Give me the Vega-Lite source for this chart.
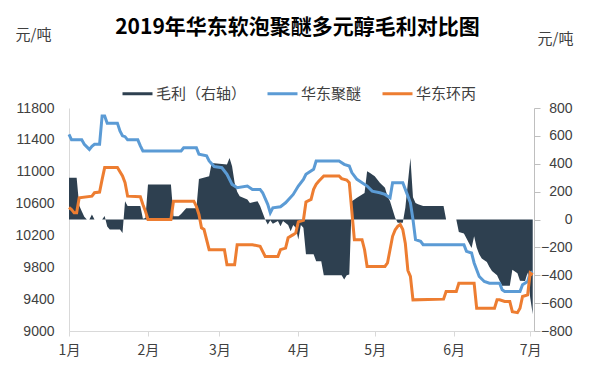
{
  "$schema": "https://vega.github.io/schema/vega-lite/v6.json",
  "width": 465,
  "height": 223,
  "autosize": {"type": "none"},
  "padding": {"left": 69, "top": 108, "right": 61, "bottom": 39},
  "background": "white",
  "title": {
    "text": "2019年华东软泡聚醚多元醇毛利对比图",
    "font": "Noto Sans CJK SC",
    "fontSize": 21,
    "fontWeight": "bold",
    "color": "#000000",
    "anchor": "middle",
    "frame": "group",
    "dx": -4,
    "offset": -11
  },
  "config": {"view": {"stroke": null}},
  "datasets": {
    "profit": [
      {"date": "2019/01/01", "series": "毛利（右轴）", "value": 300},
      {"date": "2019/01/04", "series": "毛利（右轴）", "value": 300},
      {"date": "2019/01/05", "series": "毛利（右轴）", "value": 100},
      {"date": "2019/01/06", "series": "毛利（右轴）", "value": 60},
      {"date": "2019/01/07", "series": "毛利（右轴）", "value": 20},
      {"date": "2019/01/08", "series": "毛利（右轴）", "value": 0},
      {"date": "2019/01/09", "series": "毛利（右轴）", "value": 0},
      {"date": "2019/01/10", "series": "毛利（右轴）", "value": 36},
      {"date": "2019/01/11", "series": "毛利（右轴）", "value": 0},
      {"date": "2019/01/14", "series": "毛利（右轴）", "value": 0},
      {"date": "2019/01/15", "series": "毛利（右轴）", "value": 25},
      {"date": "2019/01/16", "series": "毛利（右轴）", "value": -50},
      {"date": "2019/01/17", "series": "毛利（右轴）", "value": -72},
      {"date": "2019/01/21", "series": "毛利（右轴）", "value": -72},
      {"date": "2019/01/22", "series": "毛利（右轴）", "value": -96},
      {"date": "2019/01/23", "series": "毛利（右轴）", "value": 131},
      {"date": "2019/01/24", "series": "毛利（右轴）", "value": 96},
      {"date": "2019/01/29", "series": "毛利（右轴）", "value": 96},
      {"date": "2019/01/30", "series": "毛利（右轴）", "value": 5},
      {"date": "2019/01/31", "series": "毛利（右轴）", "value": 10},
      {"date": "2019/02/01", "series": "毛利（右轴）", "value": 252},
      {"date": "2019/02/10", "series": "毛利（右轴）", "value": 252},
      {"date": "2019/02/11", "series": "毛利（右轴）", "value": 24},
      {"date": "2019/02/13", "series": "毛利（右轴）", "value": 24},
      {"date": "2019/02/14", "series": "毛利（右轴）", "value": 40},
      {"date": "2019/02/16", "series": "毛利（右轴）", "value": 80},
      {"date": "2019/02/20", "series": "毛利（右轴）", "value": 80},
      {"date": "2019/02/21", "series": "毛利（右轴）", "value": 290},
      {"date": "2019/02/25", "series": "毛利（右轴）", "value": 310},
      {"date": "2019/02/26", "series": "毛利（右轴）", "value": 405},
      {"date": "2019/03/04", "series": "毛利（右轴）", "value": 394},
      {"date": "2019/03/05", "series": "毛利（右轴）", "value": 442},
      {"date": "2019/03/06", "series": "毛利（右轴）", "value": 382},
      {"date": "2019/03/07", "series": "毛利（右轴）", "value": 263},
      {"date": "2019/03/08", "series": "毛利（右轴）", "value": 200},
      {"date": "2019/03/09", "series": "毛利（右轴）", "value": 167},
      {"date": "2019/03/12", "series": "毛利（右轴）", "value": 143},
      {"date": "2019/03/13", "series": "毛利（右轴）", "value": 119},
      {"date": "2019/03/16", "series": "毛利（右轴）", "value": 131},
      {"date": "2019/03/17", "series": "毛利（右轴）", "value": 96},
      {"date": "2019/03/18", "series": "毛利（右轴）", "value": 48},
      {"date": "2019/03/19", "series": "毛利（右轴）", "value": 0},
      {"date": "2019/03/20", "series": "毛利（右轴）", "value": -36},
      {"date": "2019/03/21", "series": "毛利（右轴）", "value": -5},
      {"date": "2019/03/22", "series": "毛利（右轴）", "value": -30},
      {"date": "2019/03/24", "series": "毛利（右轴）", "value": -10},
      {"date": "2019/03/25", "series": "毛利（右轴）", "value": -48},
      {"date": "2019/03/26", "series": "毛利（右轴）", "value": -10},
      {"date": "2019/03/28", "series": "毛利（右轴）", "value": -40},
      {"date": "2019/03/29", "series": "毛利（右轴）", "value": -84},
      {"date": "2019/03/30", "series": "毛利（右轴）", "value": -40},
      {"date": "2019/03/31", "series": "毛利（右轴）", "value": -60},
      {"date": "2019/04/01", "series": "毛利（右轴）", "value": -143},
      {"date": "2019/04/02", "series": "毛利（右轴）", "value": -40},
      {"date": "2019/04/03", "series": "毛利（右轴）", "value": -60},
      {"date": "2019/04/04", "series": "毛利（右轴）", "value": -250},
      {"date": "2019/04/07", "series": "毛利（右轴）", "value": -250},
      {"date": "2019/04/08", "series": "毛利（右轴）", "value": -300},
      {"date": "2019/04/10", "series": "毛利（右轴）", "value": -300},
      {"date": "2019/04/11", "series": "毛利（右轴）", "value": -400},
      {"date": "2019/04/18", "series": "毛利（右轴）", "value": -400},
      {"date": "2019/04/19", "series": "毛利（右轴）", "value": -430},
      {"date": "2019/04/20", "series": "毛利（右轴）", "value": -400},
      {"date": "2019/04/21", "series": "毛利（右轴）", "value": -395},
      {"date": "2019/04/22", "series": "毛利（右轴）", "value": 131},
      {"date": "2019/04/24", "series": "毛利（右轴）", "value": 156},
      {"date": "2019/04/27", "series": "毛利（右轴）", "value": 191},
      {"date": "2019/04/28", "series": "毛利（右轴）", "value": 346},
      {"date": "2019/04/29", "series": "毛利（右轴）", "value": 335},
      {"date": "2019/05/01", "series": "毛利（右轴）", "value": 311},
      {"date": "2019/05/03", "series": "毛利（右轴）", "value": 263},
      {"date": "2019/05/05", "series": "毛利（右轴）", "value": 227},
      {"date": "2019/05/06", "series": "毛利（右轴）", "value": 167},
      {"date": "2019/05/07", "series": "毛利（右轴）", "value": 131},
      {"date": "2019/05/08", "series": "毛利（右轴）", "value": 72},
      {"date": "2019/05/09", "series": "毛利（右轴）", "value": 12},
      {"date": "2019/05/10", "series": "毛利（右轴）", "value": -24},
      {"date": "2019/05/12", "series": "毛利（右轴）", "value": -24},
      {"date": "2019/05/13", "series": "毛利（右轴）", "value": 84},
      {"date": "2019/05/14", "series": "毛利（右轴）", "value": 263},
      {"date": "2019/05/15", "series": "毛利（右轴）", "value": 442},
      {"date": "2019/05/16", "series": "毛利（右轴）", "value": 160},
      {"date": "2019/05/17", "series": "毛利（右轴）", "value": 119},
      {"date": "2019/05/18", "series": "毛利（右轴）", "value": 110},
      {"date": "2019/05/20", "series": "毛利（右轴）", "value": 96},
      {"date": "2019/05/28", "series": "毛利（右轴）", "value": 96},
      {"date": "2019/05/29", "series": "毛利（右轴）", "value": 0},
      {"date": "2019/06/02", "series": "毛利（右轴）", "value": 0},
      {"date": "2019/06/03", "series": "毛利（右轴）", "value": -90},
      {"date": "2019/06/05", "series": "毛利（右轴）", "value": -100},
      {"date": "2019/06/07", "series": "毛利（右轴）", "value": -170},
      {"date": "2019/06/08", "series": "毛利（右轴）", "value": -205},
      {"date": "2019/06/09", "series": "毛利（右轴）", "value": -120},
      {"date": "2019/06/10", "series": "毛利（右轴）", "value": -200},
      {"date": "2019/06/11", "series": "毛利（右轴）", "value": -250},
      {"date": "2019/06/12", "series": "毛利（右轴）", "value": -280},
      {"date": "2019/06/14", "series": "毛利（右轴）", "value": -305},
      {"date": "2019/06/15", "series": "毛利（右轴）", "value": -340},
      {"date": "2019/06/16", "series": "毛利（右轴）", "value": -370},
      {"date": "2019/06/18", "series": "毛利（右轴）", "value": -400},
      {"date": "2019/06/19", "series": "毛利（右轴）", "value": -440},
      {"date": "2019/06/20", "series": "毛利（右轴）", "value": -475},
      {"date": "2019/06/23", "series": "毛利（右轴）", "value": -475},
      {"date": "2019/06/24", "series": "毛利（右轴）", "value": -360},
      {"date": "2019/06/26", "series": "毛利（右轴）", "value": -385},
      {"date": "2019/06/27", "series": "毛利（右轴）", "value": -440},
      {"date": "2019/06/29", "series": "毛利（右轴）", "value": -442},
      {"date": "2019/06/30", "series": "毛利（右轴）", "value": -380},
      {"date": "2019/07/01", "series": "毛利（右轴）", "value": -560},
      {"date": "2019/07/02", "series": "毛利（右轴）", "value": -680}
    ],
    "price": [
      {"date": "2019/01/01", "series": "华东聚醚", "value": 11470},
      {"date": "2019/01/02", "series": "华东聚醚", "value": 11400},
      {"date": "2019/01/06", "series": "华东聚醚", "value": 11400},
      {"date": "2019/01/07", "series": "华东聚醚", "value": 11345},
      {"date": "2019/01/09", "series": "华东聚醚", "value": 11280},
      {"date": "2019/01/10", "series": "华东聚醚", "value": 11320},
      {"date": "2019/01/11", "series": "华东聚醚", "value": 11345},
      {"date": "2019/01/13", "series": "华东聚醚", "value": 11345},
      {"date": "2019/01/14", "series": "华东聚醚", "value": 11700},
      {"date": "2019/01/15", "series": "华东聚醚", "value": 11700},
      {"date": "2019/01/16", "series": "华东聚醚", "value": 11610},
      {"date": "2019/01/20", "series": "华东聚醚", "value": 11610},
      {"date": "2019/01/21", "series": "华东聚醚", "value": 11513},
      {"date": "2019/01/22", "series": "华东聚醚", "value": 11450},
      {"date": "2019/01/23", "series": "华东聚醚", "value": 11440},
      {"date": "2019/01/24", "series": "华东聚醚", "value": 11400},
      {"date": "2019/01/28", "series": "华东聚醚", "value": 11400},
      {"date": "2019/01/29", "series": "华东聚醚", "value": 11324},
      {"date": "2019/01/30", "series": "华东聚醚", "value": 11260},
      {"date": "2019/02/14", "series": "华东聚醚", "value": 11260},
      {"date": "2019/02/15", "series": "华东聚醚", "value": 11300},
      {"date": "2019/02/20", "series": "华东聚醚", "value": 11300},
      {"date": "2019/02/21", "series": "华东聚醚", "value": 11220},
      {"date": "2019/02/24", "series": "华东聚醚", "value": 11200},
      {"date": "2019/02/25", "series": "华东聚醚", "value": 11135},
      {"date": "2019/02/27", "series": "华东聚醚", "value": 11065},
      {"date": "2019/03/02", "series": "华东聚醚", "value": 11050},
      {"date": "2019/03/04", "series": "华东聚醚", "value": 10967},
      {"date": "2019/03/06", "series": "华东聚醚", "value": 10841},
      {"date": "2019/03/08", "series": "华东聚醚", "value": 10800},
      {"date": "2019/03/12", "series": "华东聚醚", "value": 10820},
      {"date": "2019/03/14", "series": "华东聚醚", "value": 10778},
      {"date": "2019/03/17", "series": "华东聚醚", "value": 10778},
      {"date": "2019/03/18", "series": "华东聚醚", "value": 10736},
      {"date": "2019/03/20", "series": "华东聚醚", "value": 10590},
      {"date": "2019/03/21", "series": "华东聚醚", "value": 10484},
      {"date": "2019/03/22", "series": "华东聚醚", "value": 10547},
      {"date": "2019/03/25", "series": "华东聚醚", "value": 10560},
      {"date": "2019/03/27", "series": "华东聚醚", "value": 10610},
      {"date": "2019/03/30", "series": "华东聚醚", "value": 10715},
      {"date": "2019/04/01", "series": "华东聚醚", "value": 10820},
      {"date": "2019/04/03", "series": "华东聚醚", "value": 10904},
      {"date": "2019/04/04", "series": "华东聚醚", "value": 10967},
      {"date": "2019/04/07", "series": "华东聚醚", "value": 11030},
      {"date": "2019/04/08", "series": "华东聚醚", "value": 11135},
      {"date": "2019/04/17", "series": "华东聚醚", "value": 11135},
      {"date": "2019/04/19", "series": "华东聚醚", "value": 11093},
      {"date": "2019/04/21", "series": "华东聚醚", "value": 11072},
      {"date": "2019/04/22", "series": "华东聚醚", "value": 10989},
      {"date": "2019/04/24", "series": "华东聚醚", "value": 10904},
      {"date": "2019/04/25", "series": "华东聚醚", "value": 10883},
      {"date": "2019/04/28", "series": "华东聚醚", "value": 10820},
      {"date": "2019/04/30", "series": "华东聚醚", "value": 10756},
      {"date": "2019/05/03", "series": "华东聚醚", "value": 10736},
      {"date": "2019/05/05", "series": "华东聚醚", "value": 10715},
      {"date": "2019/05/07", "series": "华东聚醚", "value": 10673},
      {"date": "2019/05/08", "series": "华东聚醚", "value": 10862},
      {"date": "2019/05/12", "series": "华东聚醚", "value": 10862},
      {"date": "2019/05/13", "series": "华东聚醚", "value": 10778},
      {"date": "2019/05/15", "series": "华东聚醚", "value": 10610},
      {"date": "2019/05/16", "series": "华东聚醚", "value": 10400},
      {"date": "2019/05/17", "series": "华东聚醚", "value": 10147},
      {"date": "2019/05/19", "series": "华东聚醚", "value": 10126},
      {"date": "2019/05/20", "series": "华东聚醚", "value": 10084},
      {"date": "2019/06/05", "series": "华东聚醚", "value": 10084},
      {"date": "2019/06/06", "series": "华东聚醚", "value": 10000},
      {"date": "2019/06/08", "series": "华东聚醚", "value": 9980},
      {"date": "2019/06/09", "series": "华东聚醚", "value": 9854},
      {"date": "2019/06/11", "series": "华东聚醚", "value": 9685},
      {"date": "2019/06/13", "series": "华东聚醚", "value": 9622},
      {"date": "2019/06/15", "series": "华东聚醚", "value": 9600},
      {"date": "2019/06/19", "series": "华东聚醚", "value": 9600},
      {"date": "2019/06/20", "series": "华东聚醚", "value": 9517},
      {"date": "2019/06/21", "series": "华东聚醚", "value": 9496},
      {"date": "2019/06/27", "series": "华东聚醚", "value": 9496},
      {"date": "2019/06/28", "series": "华东聚醚", "value": 9580},
      {"date": "2019/06/30", "series": "华东聚醚", "value": 9622},
      {"date": "2019/07/01", "series": "华东聚醚", "value": 9728},
      {"date": "2019/07/02", "series": "华东聚醚", "value": 9744},
      {"date": "2019/01/01", "series": "华东环丙", "value": 10550},
      {"date": "2019/01/02", "series": "华东环丙", "value": 10526},
      {"date": "2019/01/03", "series": "华东环丙", "value": 10484},
      {"date": "2019/01/04", "series": "华东环丙", "value": 10484},
      {"date": "2019/01/05", "series": "华东环丙", "value": 10673},
      {"date": "2019/01/10", "series": "华东环丙", "value": 10693},
      {"date": "2019/01/11", "series": "华东环丙", "value": 10736},
      {"date": "2019/01/13", "series": "华东环丙", "value": 10744},
      {"date": "2019/01/14", "series": "华东环丙", "value": 10904},
      {"date": "2019/01/15", "series": "华东环丙", "value": 11052},
      {"date": "2019/01/20", "series": "华东环丙", "value": 11052},
      {"date": "2019/01/22", "series": "华东环丙", "value": 10946},
      {"date": "2019/01/23", "series": "华东环丙", "value": 10862},
      {"date": "2019/01/24", "series": "华东环丙", "value": 10693},
      {"date": "2019/01/29", "series": "华东环丙", "value": 10686},
      {"date": "2019/01/30", "series": "华东环丙", "value": 10589},
      {"date": "2019/01/31", "series": "华东环丙", "value": 10504},
      {"date": "2019/02/01", "series": "华东环丙", "value": 10400},
      {"date": "2019/02/10", "series": "华东环丙", "value": 10400},
      {"date": "2019/02/11", "series": "华东环丙", "value": 10630},
      {"date": "2019/02/19", "series": "华东环丙", "value": 10630},
      {"date": "2019/02/20", "series": "华东环丙", "value": 10564},
      {"date": "2019/02/21", "series": "华东环丙", "value": 10463},
      {"date": "2019/02/22", "series": "华东环丙", "value": 10295},
      {"date": "2019/02/23", "series": "华东环丙", "value": 10274},
      {"date": "2019/02/25", "series": "华东环丙", "value": 10021},
      {"date": "2019/03/03", "series": "华东环丙", "value": 10021},
      {"date": "2019/03/04", "series": "华东环丙", "value": 9832},
      {"date": "2019/03/07", "series": "华东环丙", "value": 9832},
      {"date": "2019/03/08", "series": "华东环丙", "value": 10084},
      {"date": "2019/03/14", "series": "华东环丙", "value": 10084},
      {"date": "2019/03/17", "series": "华东环丙", "value": 10063},
      {"date": "2019/03/19", "series": "华东环丙", "value": 9937},
      {"date": "2019/03/24", "series": "华东环丙", "value": 9937},
      {"date": "2019/03/25", "series": "华东环丙", "value": 10021},
      {"date": "2019/03/27", "series": "华东环丙", "value": 10040},
      {"date": "2019/03/28", "series": "华东环丙", "value": 10170},
      {"date": "2019/03/30", "series": "华东环丙", "value": 10210},
      {"date": "2019/03/31", "series": "华东环丙", "value": 10232},
      {"date": "2019/04/01", "series": "华东环丙", "value": 10370},
      {"date": "2019/04/03", "series": "华东环丙", "value": 10390},
      {"date": "2019/04/04", "series": "华东环丙", "value": 10620},
      {"date": "2019/04/06", "series": "华东环丙", "value": 10652},
      {"date": "2019/04/07", "series": "华东环丙", "value": 10778},
      {"date": "2019/04/08", "series": "华东环丙", "value": 10841},
      {"date": "2019/04/09", "series": "华东环丙", "value": 10880},
      {"date": "2019/04/11", "series": "华东环丙", "value": 10946},
      {"date": "2019/04/17", "series": "华东环丙", "value": 10946},
      {"date": "2019/04/18", "series": "华东环丙", "value": 10913},
      {"date": "2019/04/20", "series": "华东环丙", "value": 10895},
      {"date": "2019/04/21", "series": "华东环丙", "value": 10862},
      {"date": "2019/04/22", "series": "华东环丙", "value": 10505},
      {"date": "2019/04/23", "series": "华东环丙", "value": 10147},
      {"date": "2019/04/26", "series": "华东环丙", "value": 10147},
      {"date": "2019/04/27", "series": "华东环丙", "value": 10021},
      {"date": "2019/04/28", "series": "华东环丙", "value": 9811},
      {"date": "2019/05/05", "series": "华东环丙", "value": 9811},
      {"date": "2019/05/06", "series": "华东环丙", "value": 9854},
      {"date": "2019/05/08", "series": "华东环丙", "value": 10189},
      {"date": "2019/05/09", "series": "华东环丙", "value": 10270},
      {"date": "2019/05/10", "series": "华东环丙", "value": 10315},
      {"date": "2019/05/11", "series": "华东环丙", "value": 10337},
      {"date": "2019/05/12", "series": "华东环丙", "value": 10274},
      {"date": "2019/05/13", "series": "华东环丙", "value": 10100},
      {"date": "2019/05/14", "series": "华东环丙", "value": 9760},
      {"date": "2019/05/15", "series": "华东环丙", "value": 9685},
      {"date": "2019/05/16", "series": "华东环丙", "value": 9391},
      {"date": "2019/05/28", "series": "华东环丙", "value": 9400},
      {"date": "2019/05/29", "series": "华东环丙", "value": 9496},
      {"date": "2019/06/02", "series": "华东环丙", "value": 9496},
      {"date": "2019/06/03", "series": "华东环丙", "value": 9600},
      {"date": "2019/06/09", "series": "华东环丙", "value": 9600},
      {"date": "2019/06/10", "series": "华东环丙", "value": 9286},
      {"date": "2019/06/17", "series": "华东环丙", "value": 9286},
      {"date": "2019/06/18", "series": "华东环丙", "value": 9391},
      {"date": "2019/06/19", "series": "华东环丙", "value": 9391},
      {"date": "2019/06/21", "series": "华东环丙", "value": 9370},
      {"date": "2019/06/23", "series": "华东环丙", "value": 9370},
      {"date": "2019/06/24", "series": "华东环丙", "value": 9243},
      {"date": "2019/06/26", "series": "华东环丙", "value": 9230},
      {"date": "2019/06/27", "series": "华东环丙", "value": 9286},
      {"date": "2019/06/28", "series": "华东环丙", "value": 9433},
      {"date": "2019/06/30", "series": "华东环丙", "value": 9454},
      {"date": "2019/07/01", "series": "华东环丙", "value": 9728},
      {"date": "2019/07/02", "series": "华东环丙", "value": 9706}
    ]
  },
  "layer": [
    {
      "data": {"name": "profit"},
      "mark": {"type": "area", "interpolate": "linear", "opacity": 1},
      "encoding": {
        "x": {
          "field": "date",
          "type": "temporal",
          "scale": {"domain": [{"year": 2019, "month": 1, "date": 1}, {"year": 2019, "month": 7, "date": 2, "hours": 12}], "nice": false},
          "axis": {
            "title": null,
            "tickCount": {"interval": "month", "step": 1},
            "labelExpr": "(month(datum.value)+1)+'月'",
            "grid": false,
            "domainColor": "#d9d9d9",
            "tickColor": "#d9d9d9",
            "tickSize": 5,
            "labelFont": "Noto Sans CJK SC",
            "labelFontSize": 14,
            "labelColor": "#404040",
            "labelPadding": 7,
            "labelFlush": false
          }
        },
        "y": {
          "field": "value",
          "type": "quantitative",
          "scale": {"domain": [-800, 800], "nice": false},
          "axis": {
            "orient": "right",
            "values": [-800, -600, -400, -200, 0, 200, 400, 600, 800],
            "grid": false,
            "domainColor": "#bfbfbf",
            "tickColor": "#bfbfbf",
            "tickSize": 6,
            "labelAlign": "right",
            "labelPadding": 32,
            "labelFont": "Liberation Sans",
            "labelFontSize": 14,
            "labelColor": "#404040",
            "title": "元/吨",
            "titleAngle": 0,
            "titleAlign": "left",
            "titleBaseline": "middle",
            "titleX": 3,
            "titleY": -70,
            "titleFont": "Noto Sans CJK SC",
            "titleFontSize": 15,
            "titleFontWeight": "normal",
            "titleColor": "#404040"
          }
        },
        "color": {
          "field": "series",
          "type": "nominal",
          "scale": {"domain": ["毛利（右轴）", "华东聚醚", "华东环丙"], "range": ["#2e4050", "#5b9bd5", "#ed7d31"]},
          "legend": {
            "orient": "none",
            "legendX": 52,
            "legendY": -31,
            "direction": "horizontal",
            "title": null,
            "symbolType": "stroke",
            "symbolSize": 900,
            "symbolStrokeWidth": 3,
            "labelFont": "Noto Sans CJK SC",
            "labelFontSize": 15,
            "labelColor": "#404040",
            "labelOffset": 2,
            "columnPadding": 14,
            "padding": 0,
            "encode": {"symbols": {"update": {"strokeWidth": {"signal": "datum.value === '毛利（右轴）' ? 9 : 3"}, "stroke": {"scale": "color", "field": "value"}}}}
          }
        }
      }
    },
    {
      "data": {"name": "price"},
      "mark": {"type": "line", "strokeWidth": 3, "interpolate": "linear"},
      "encoding": {
        "x": {"field": "date", "type": "temporal"},
        "y": {
          "field": "value",
          "type": "quantitative",
          "scale": {"domain": [9000, 11800], "nice": false},
          "axis": {
            "orient": "left",
            "values": [9000, 9400, 9800, 10200, 10600, 11000, 11400, 11800],
            "format": "d",
            "grid": false,
            "ticks": false,
            "domainColor": "#d9d9d9",
            "labelPadding": 15,
            "labelFont": "Liberation Sans",
            "labelFontSize": 14,
            "labelColor": "#404040",
            "title": "元/吨",
            "titleAngle": 0,
            "titleAlign": "left",
            "titleBaseline": "middle",
            "titleX": -54,
            "titleY": -74,
            "titleFont": "Noto Sans CJK SC",
            "titleFontSize": 15,
            "titleFontWeight": "normal",
            "titleColor": "#404040"
          }
        },
        "color": {"field": "series", "type": "nominal"}
      }
    }
  ],
  "resolve": {"scale": {"y": "independent"}}
}
